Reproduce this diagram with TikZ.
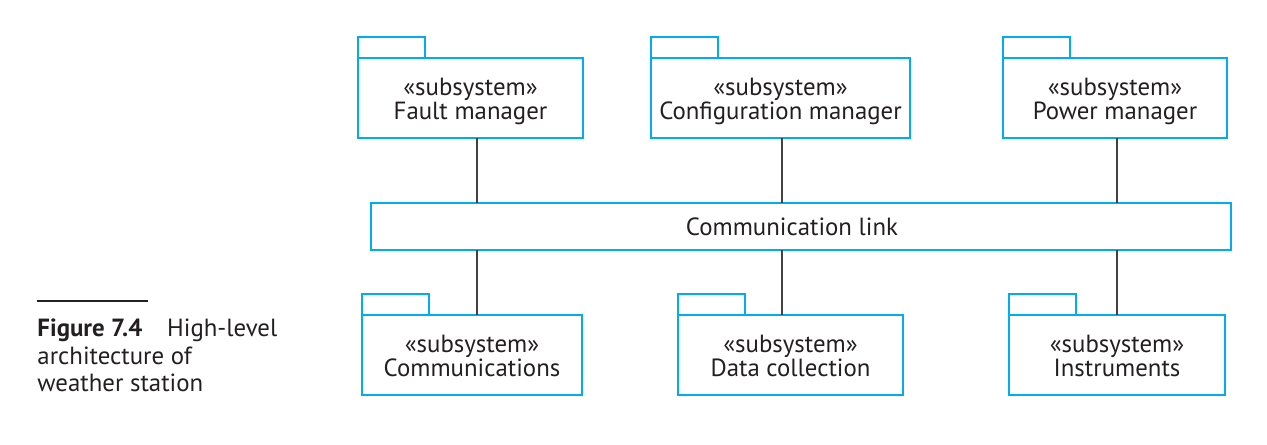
\documentclass[tikz,border=0pt]{standalone}
\usepackage{fontspec}
\setmainfont{PT Sans}
\usetikzlibrary{positioning}
\definecolor{pkgblue}{HTML}{00AEEF}
\definecolor{inkclr}{HTML}{231F20}

\begin{document}
\begin{tikzpicture}[x=0.15mm, y=-0.15mm,
    pkg/.style={draw=pkgblue, line width=1pt, minimum height=12mm, inner sep=0pt, outer sep=0pt,
                font=\fontsize{10.6}{10.2}\selectfont, text=inkclr, align=center,
                text height=21pt, text depth=3pt},
    tab/.style={draw=pkgblue, line width=1pt, minimum width=10.05mm, minimum height=3.15mm,
                inner sep=0pt, outer sep=0pt, anchor=south west},
    wire/.style={draw=inkclr!85, line width=0.45pt},
    capt/.style={font=\fontsize{10.6}{11.9}\selectfont, text=inkclr, align=left,
                 inner sep=0pt, anchor=north west},
  ]
  \useasboundingbox (0,0) rectangle (1267,444);

  % top row of subsystems
  \node[pkg, minimum width=33.75mm] (fault)  at (470.5,98) {«subsystem»\\Fault manager};
  \node[pkg, minimum width=38.85mm] (config) at (780.5,98) {«subsystem»\\Configuration manager};
  \node[pkg, minimum width=33.6mm]  (power)  at (1115,98)  {«subsystem»\\Power manager};

  % the shared link
  \node[pkg, minimum width=129mm, minimum height=7.05mm, text height=0pt, text depth=0pt] (link) at (801,226.5) {};
  \node[font=\fontsize{10.6}{10.2}\selectfont, text=inkclr] (linklbl) at (792,226.5) {Communication link};

  % bottom row of subsystems
  \node[pkg, minimum width=33mm]    (comms)  at (472,355)   {«subsystem»\\Communications};
  \node[pkg, minimum width=33.75mm] (data)   at (790.5,355) {«subsystem»\\Data collection};
  \node[pkg, minimum width=32.4mm]  (instr)  at (1117,355)  {«subsystem»\\Instruments};

  % package tabs
  \node[tab] (faulttab)  at (fault.north west)  {};
  \node[tab] (configtab) at (config.north west) {};
  \node[tab] (powertab)  at (power.north west)  {};
  \node[tab] (commstab)  at (comms.north west)  {};
  \node[tab] (datatab)   at (data.north west)   {};
  \node[tab] (instrtab)  at (instr.north west)  {};

  % connectors to the link
  \coordinate (busA) at (477,0);
  \coordinate (busB) at (782,0);
  \coordinate (busC) at (1117,0);
  \draw[wire] (fault.south -| busA)  -- (link.north -| busA);
  \draw[wire] (config.south -| busB) -- (link.north -| busB);
  \draw[wire] (power.south -| busC)  -- (link.north -| busC);
  \draw[wire] (link.south -| busA) -- (comms.north -| busA);
  \draw[wire] (link.south -| busB) -- (data.north -| busB);
  \draw[wire] (link.south -| busC) -- (instr.north -| busC);

  % caption
  \draw[inkclr, line width=0.45pt] (37,301) -- (148,301);
  \node[capt] (caption) at (37,318) {\textbf{Figure 7.4}\quad High-level\\architecture of\\weather station};
\end{tikzpicture}
\end{document}
